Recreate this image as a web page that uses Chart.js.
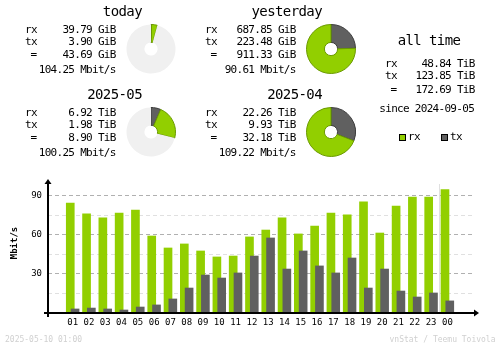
<!DOCTYPE html>
<html>
<head>
<meta charset="utf-8">
<script src="https://cdn.jsdelivr.net/npm/chart.js@4.4.1/dist/chart.umd.min.js"></script>
<style>
  body { margin: 0; background: #fff; }
  #page { position: relative; width: 500px; height: 348px; overflow: hidden; font-family: "DejaVu Sans Mono", monospace; color: #000; }
  #page canvas { position: absolute; }
  .t { position: absolute; white-space: pre; line-height: 1; }
  .big { font-size: 14px; letter-spacing: -0.6px; }
  .sm { font-size: 11px; letter-spacing: -0.7px; }
  .foot { font-size: 8px; color: #d0d0d0; }
  .key { position: absolute; width: 5px; height: 5px; border: 1px solid #000; }
</style>
</head>
<body>
<div id="page">
  <canvas id="bars" width="500" height="348" style="left:0;top:0"></canvas>
</div>
<script>
// hourly averages (Mbit/s)
const hours = ["01", "02", "03", "04", "05", "06", "07", "08", "09", "10", "11", "12",
               "13", "14", "15", "16", "17", "18", "19", "20", "21", "22", "23", "00"];
const rxRate = [84.6, 76.2, 73.1, 76.9, 79.2, 59.2, 50.0, 53.1, 47.7, 43.1, 43.8, 58.5,
                63.8, 73.1, 60.8, 66.9, 76.9, 75.4, 85.4, 61.5, 82.3, 89.2, 89.2, 94.9];
const txRate = [3.1, 3.8, 3.1, 2.3, 4.6, 6.2, 10.8, 19.2, 29.2, 26.9, 30.8, 43.8,
                57.7, 33.8, 47.7, 36.2, 30.8, 42.3, 19.2, 33.8, 16.9, 12.3, 15.4, 9.3];
const yTicks = [0, 15, 30, 45, 60, 75, 90];

// summary blocks
const periodNames = ["today", "yesterday", "2025-05", "2025-04"];
const periodUnits = ["GiB", "GiB", "TiB", "TiB"];
const periodRx = [39.79, 687.85, 6.92, 22.26];
const periodTx = [3.90, 223.48, 1.98, 9.93];
const periodTotal = [43.69, 911.33, 8.90, 32.18];
const periodRate = [104.25, 90.61, 100.25, 109.22];
// how much of each period has passed, the rest of the pie stays grey
const periodElapsed = [0.042, 1, 0.29, 1];

const allTime = [48.84, 123.85, 172.69];
const sinceDate = "2024-09-05";
const stamp = "2025-05-10 01:00";

const RX = "#92cf00", TX = "#606060";
const page = document.getElementById("page");

function text(str, x, y, cls, align) {
  const d = document.createElement("div");
  d.className = "t " + cls;
  d.textContent = str;
  if (align === "right") {
    d.style.left = (x - 300) + "px";
    d.style.width = "300px";
    d.style.textAlign = "right";
  } else {
    d.style.left = x + "px";
  }
  d.style.top = y + "px";
  page.appendChild(d);
}

// four period blocks: 2 columns x 2 rows
const blockPos = [[0, 0], [180, 0], [0, 83], [180, 83]];
periodNames.forEach((name, i) => {
  const [bx, by] = blockPos[i];
  const u = periodUnits[i];
  text(name, bx + 142, by + 3.7, "big", "right");
  text("rx", bx + 25, by + 24, "sm");
  text("tx", bx + 25, by + 36.4, "sm");
  text("=", bx + 30.5, by + 49, "sm");
  text(periodRx[i].toFixed(2) + " " + u, bx + 115.7, by + 24, "sm", "right");
  text(periodTx[i].toFixed(2) + " " + u, bx + 115.7, by + 36.4, "sm", "right");
  text(periodTotal[i].toFixed(2) + " " + u, bx + 115.7, by + 49, "sm", "right");
  text(periodRate[i].toFixed(2) + " Mbit/s", bx + 115.7, by + 64, "sm", "right");

  const cv = document.createElement("canvas");
  cv.width = 50; cv.height = 50;
  cv.style.left = (bx + 125.5) + "px";
  cv.style.top = (by + 23.8) + "px";
  page.appendChild(cv);
  const rest = periodTotal[i] * (1 / periodElapsed[i] - 1);
  const vals = [periodTx[i], periodRx[i]];
  const fills = [TX, RX], edges = ["#3c3c3c", "#6b9a00"], widths = [1, 1];
  if (rest > 0) { vals.push(rest); fills.push("#f0f0f0"); edges.push("#f0f0f0"); widths.push(0); }
  new Chart(cv, {
    type: "doughnut",
    data: { labels: ["tx", "rx", ""].slice(0, vals.length),
      datasets: [{ data: vals, backgroundColor: fills, borderColor: edges, borderWidth: widths }] },
    options: {
      responsive: false, animation: false, devicePixelRatio: 1, cutout: "27%",
      plugins: { legend: { display: false }, tooltip: { enabled: false } }
    }
  });
});

// all time column
text("all time", 397.7, 33.2, "big");
text("rx", 385, 58, "sm");
text("tx", 385, 69.7, "sm");
text("=", 390.5, 84, "sm");
allTime.forEach((v, i) => text(v.toFixed(2) + " TiB", 474.7, [58, 69.7, 84][i], "sm", "right"));
text("since " + sinceDate, 379.3, 103.4, "sm");

// legend
[["rx", RX, 398.5], ["tx", TX, 440.5]].forEach(([lbl, col, x]) => {
  const k = document.createElement("div");
  k.className = "key";
  k.style.left = x + "px"; k.style.top = "134px"; k.style.background = col;
  page.appendChild(k);
  text(lbl, x + 9.5, 130.7, "sm");
});

// footer
text(stamp, 5, 336, "foot");
text("vnStat / Teemu Toivola", 495.5, 336, "foot", "right");

// axes, arrows and the separator before the running hour
const frame = {
  id: "frame",
  beforeDatasetsDraw(chart) {
    const { ctx, chartArea: a, scales: { x } } = chart;
    const sx = Math.round(x.getPixelForValue(hours.length - 0.5)) + 0.5;
    ctx.save();
    ctx.strokeStyle = "#e0e0e0";
    ctx.lineWidth = 1;
    ctx.beginPath();
    ctx.moveTo(sx, a.top + 3);
    ctx.lineTo(sx, a.bottom);
    ctx.stroke();
    ctx.restore();
  },
  afterDraw(chart) {
    const { ctx, chartArea: a } = chart;
    ctx.save();
    ctx.fillStyle = "#000";
    ctx.fillRect(a.left - 1, a.top, 2, a.bottom - a.top + 4);
    ctx.fillRect(a.left - 4, a.bottom - 1, a.right - a.left + 8, 2);
    ctx.beginPath();
    ctx.moveTo(a.left, a.top - 2);
    ctx.lineTo(a.left - 3.5, a.top + 3);
    ctx.lineTo(a.left + 3.5, a.top + 3);
    ctx.fill();
    ctx.beginPath();
    ctx.moveTo(a.right + 6, a.bottom);
    ctx.lineTo(a.right + 1, a.bottom - 3.5);
    ctx.lineTo(a.right + 1, a.bottom + 3.5);
    ctx.fill();
    ctx.translate(14.5, 243);
    ctx.rotate(-Math.PI / 2);
    ctx.font = 'bold 9px "DejaVu Sans Mono"';
    ctx.textAlign = "center";
    ctx.textBaseline = "middle";
    ctx.fillText("Mbit/s", 0, 0);
    ctx.restore();
  }
};

// rx and tx bars of one hour overlap a little, tx in front
const shift = 2.5 / 17;
const xMin = 1 - 16.5 / 17;
new Chart(document.getElementById("bars"), {
  type: "bar",
  data: {
    datasets: [
      { label: "tx", data: txRate.map((v, i) => ({ x: i + 1 + shift, y: v })),
        backgroundColor: TX, barThickness: 8, order: 0 },
      { label: "rx", data: rxRate.map((v, i) => ({ x: i + 1 - shift, y: v })),
        backgroundColor: RX, barThickness: 8, order: 1 }
    ]
  },
  options: {
    responsive: false, animation: false, devicePixelRatio: 1,
    layout: { padding: { top: 181, right: 27, left: 0, bottom: 0 } },
    datasets: { bar: { grouped: false } },
    plugins: { legend: { display: false }, tooltip: { enabled: false } },
    scales: {
      x: {
        type: "linear", min: xMin, max: xMin + 25,
        afterBuildTicks: s => { s.ticks = hours.map((h, i) => ({ value: i + 1 })); },
        afterFit: s => { s.height = 35; },
        grid: { display: false, drawTicks: false },
        border: { display: false },
        ticks: { autoSkip: false, maxRotation: 0, padding: 4, color: "#000",
          font: { family: "DejaVu Sans Mono", size: 9 },
          callback: v => hours[v - 1] }
      },
      y: {
        min: 0, max: 101.5,
        afterBuildTicks: s => { s.ticks = yTicks.map(v => ({ value: v })); },
        afterFit: s => { s.width = 48; },
        grid: { drawTicks: false,
          color: c => c.tick.value === 0 ? "rgba(0,0,0,0)" : (c.tick.value % 30 === 0 ? "#b0b0b0" : "#e0e0e0") },
        border: { display: false, dash: [4, 3] },
        ticks: { padding: 6, color: "#000", font: { family: "DejaVu Sans Mono", size: 9 },
          callback: v => (v > 0 && v % 30 === 0) ? String(v) : "" }
      }
    }
  },
  plugins: [frame]
});
</script>
</body>
</html>
